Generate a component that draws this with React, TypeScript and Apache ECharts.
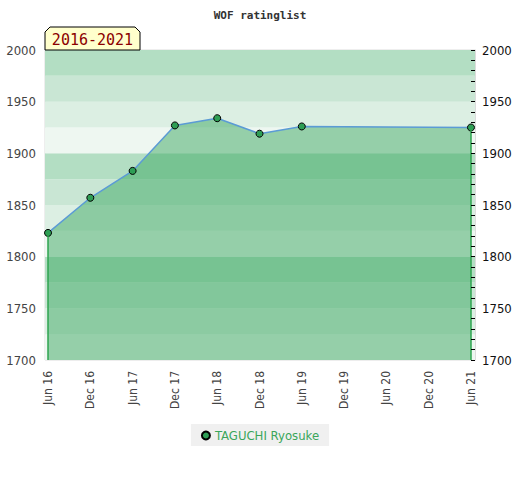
import React, { useEffect, useRef } from "react";
import * as echarts from "echarts";

// Months elapsed since Jun 2016
const months = [0, 6, 12, 18, 24, 30, 36, 60];
const ratings = [1823, 1857, 1883, 1927, 1934, 1919, 1926, 1925];
const tickMonths = [0, 6, 12, 18, 24, 30, 36, 42, 48, 54, 60];
const tickLabels = ["Jun 16", "Dec 16", "Jun 17", "Dec 17", "Jun 18", "Dec 18", "Jun 19", "Dec 19", "Jun 20", "Dec 20", "Jun 21"];
const bandEdges = [1700, 1725, 1750, 1775, 1800, 1825, 1850, 1875, 1900, 1925, 1950, 1975, 2000];
const playerName = "TAGUCHI Ryosuke";
const periodLabel = "2016-2021";
const chartTitle = "WOF ratinglist";

// shades from the bottom of each 100-point block upward
const bandPalette = ["#eef7f1", "#dcefe3", "#c9e6d4", "#b3dec3"];

const FONT = "'DejaVu Sans Condensed', 'DejaVu Sans', sans-serif";

export default function App() {
  const ref = useRef<HTMLDivElement>(null);
  useEffect(() => {
    if (!ref.current) return;
    const chart = echarts.init(ref.current, undefined, { renderer: "svg" });
    const bands = [] as any[];
    for (let i = 0; i < bandEdges.length - 1; i++) {
      bands.push([
        { yAxis: bandEdges[i], itemStyle: { color: bandPalette[i % 4], opacity: 1 } },
        { yAxis: bandEdges[i + 1] },
      ]);
    }
    const yMin = bandEdges[0];
    const yMax = bandEdges[bandEdges.length - 1];
    const last = months.length - 1;
    chart.setOption({
      animation: false,
      title: {
        text: chartTitle,
        left: "center",
        top: 5,
        textStyle: { fontFamily: "'DejaVu Sans Mono', monospace", fontSize: 11, fontWeight: "bold", color: "#333" },
      },
      grid: { left: 45, right: 45, top: 50, bottom: 120, show: true, borderColor: "#dcdcdc", borderWidth: 1, backgroundColor: "transparent" },
      legend: {
        bottom: 34,
        left: "center",
        data: [playerName],
        backgroundColor: "#f0f0f0",
        padding: [5, 10, 4, 10],
        itemWidth: 8,
        itemHeight: 8,
        itemGap: 6,
        icon: "circle",
        textStyle: { color: "#3aa65b", fontSize: 13, fontFamily: FONT },
      },
      xAxis: {
        type: "value",
        min: -0.43,
        max: 60.57,
        splitLine: { show: false },
        axisLine: { show: false },
        axisTick: { show: false },
        axisLabel: {
          customValues: tickMonths,
          rotate: 90,
          margin: 11,
          fontSize: 12,
          fontFamily: FONT,
          color: "#444",
          formatter: (v: number) => tickLabels[tickMonths.indexOf(Math.round(v))] ?? "",
        },
      },
      yAxis: [
        {
          type: "value",
          min: yMin,
          max: yMax,
          interval: 50,
          position: "left",
          splitLine: { show: false },
          axisLine: { show: false },
          axisTick: { show: false },
          axisLabel: { margin: 9, fontSize: 13, fontFamily: FONT, color: "#444", formatter: (v: number) => String(v) },
        },
        {
          type: "value",
          min: yMin,
          max: yMax,
          interval: 50,
          position: "right",
          z: 20,
          splitLine: { show: false },
          axisLine: { show: true, lineStyle: { color: "#dcdcdc", width: 1 } },
          axisTick: { show: true, inside: true, length: 4, lineStyle: { color: "#000", width: 1 } },
          minorTick: { show: true, splitNumber: 5, length: 4, lineStyle: { color: "#000", width: 1 } },
          axisLabel: { margin: 7, fontSize: 13, fontFamily: FONT, color: "#111", formatter: (v: number) => String(v) },
        },
      ],
      series: [
        {
          name: "bands",
          type: "line",
          data: [],
          z: 1,
          silent: true,
          markArea: { silent: true, data: bands },
        },
        {
          name: playerName,
          type: "line",
          z: 3,
          data: months.map((m, i) => [m, ratings[i]]),
          symbol: "circle",
          symbolSize: 7,
          itemStyle: { color: "#2e9e55", borderColor: "#000", borderWidth: 1 },
          lineStyle: { color: "#5b9bd5", width: 1.5 },
          areaStyle: { color: "rgb(60,168,98)", opacity: 0.5, origin: "start" },
          markLine: {
            silent: true,
            symbol: "none",
            label: { show: false },
            lineStyle: { color: "#2ea44f", width: 1.5, type: "solid" },
            data: [
              [{ coord: [months[0], ratings[0]] }, { coord: [months[0], yMin] }],
              [{ coord: [months[last], ratings[last]] }, { coord: [months[last], yMin] }],
            ],
          },
        },
      ],
      graphic: [
        {
          type: "polygon",
          z: 100,
          shape: { points: [[45, 50], [45, 32], [50, 27], [135, 27], [140, 32], [140, 50]] },
          style: { fill: "#ffffcc", stroke: "#000", lineWidth: 1 },
        },
        {
          type: "text",
          z: 101,
          x: 92.5,
          y: 39.5,
          style: {
            text: periodLabel,
            fill: "#8b0000",
            font: "15px 'DejaVu Sans Mono', monospace",
            align: "center",
            verticalAlign: "middle",
          },
        },
      ],
    });
    return () => chart.dispose();
  }, []);
  return <div ref={ref} style={{ position: "absolute", left: 0, top: 0, width: 520, height: 480 }} />;
}
